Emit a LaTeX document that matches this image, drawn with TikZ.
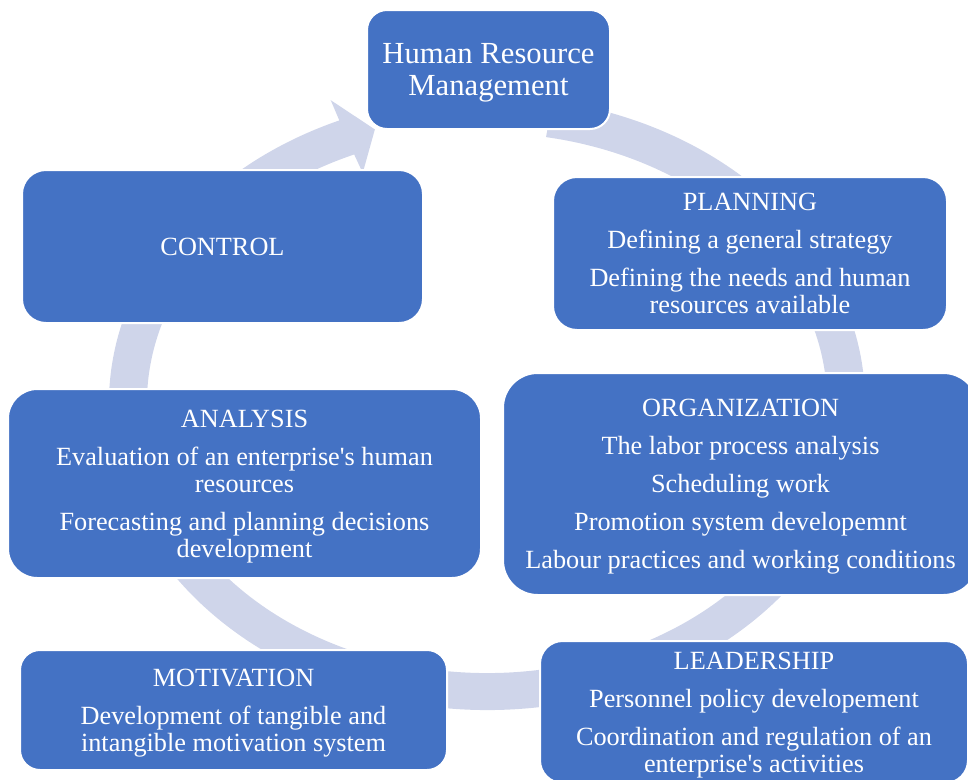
\documentclass[tikz,border=0pt]{standalone}
\usepackage{fontspec}
\setmainfont{Liberation Serif}
\definecolor{boxblue}{HTML}{4472C4}
\definecolor{ringcol}{HTML}{CFD5EA}
\tikzset{
  stagebox/.style={rectangle, fill=boxblue, draw=white, line width=1.5pt,
    text=white, align=center, inner sep=0pt,
    font=\fontsize{19.7pt}{20.3pt}\selectfont},
  hrmbox/.style={stagebox, font=\fontsize{23pt}{24pt}\selectfont}
}
\newcommand{\pgap}{\\[8.2pt]}
\newcommand{\nodepth}[1]{\raisebox{0pt}[\height][0pt]{#1}}
\begin{document}
\begin{tikzpicture}[x=0.75pt,y=-0.75pt]
\useasboundingbox (0,0) rectangle (968,779);
\begin{scope}
\clip (0,0) rectangle (968,779);
% circular arrow band
\fill[ringcol]
  ([shift={(487,403)}]-80:378 and 307)
  arc[start angle=-80, end angle=247, x radius=378, y radius=307]
  -- ([shift={(487,403)}]247:400 and 329)
  -- ([shift={(487,403)}]251.8:359 and 288)
  -- ([shift={(487,403)}]247:318 and 250)
  -- ([shift={(487,403)}]247:340 and 270)
  arc[start angle=247, end angle=-80, x radius=340, y radius=270]
  -- cycle;
% boxes
\node[hrmbox, minimum width=182.25pt, minimum height=89.25pt, rounded corners=15pt]
  (hrm) at (488.5,69.5) {Human Resource\\\nodepth{Management}};
\node[stagebox, minimum width=295.5pt, minimum height=114.75pt, rounded corners=18pt]
  (plan) at (750,253.5) {PLANNING\pgap Defining a general strategy\pgap Defining the needs and human\\\nodepth{resources available}};
\node[stagebox, minimum width=300.75pt, minimum height=114.75pt, rounded corners=18pt]
  (ctrl) at (222.5,246.5) {CONTROL};
\node[stagebox, minimum width=356.25pt, minimum height=166.5pt, rounded corners=26pt]
  (org) at (740.5,484) {ORGANIZATION\pgap The labor process analysis\pgap Scheduling work\pgap Promotion system developemnt\pgap \nodepth{Labour practices and working conditions}};
\node[stagebox, minimum width=354.75pt, minimum height=141.75pt, rounded corners=22pt]
  (anal) at (244.5,483.5) {ANALYSIS\pgap Evaluation of an enterprise\textquotesingle s human\\resources\pgap Forecasting and planning decisions\\\nodepth{development}};
\node[stagebox, minimum width=320.25pt, minimum height=90pt, rounded corners=15pt]
  (motiv) at (233.5,710) {MOTIVATION\pgap Development of tangible and\\\nodepth{intangible motivation system}};
\node[stagebox, minimum width=321pt, minimum height=106.5pt, rounded corners=17pt]
  (lead) at (754,712) {LEADERSHIP\pgap Personnel policy developement\pgap Coordination and regulation of an\\\nodepth{enterprise\textquotesingle s activities}};
\end{scope}
\end{tikzpicture}
\end{document}
